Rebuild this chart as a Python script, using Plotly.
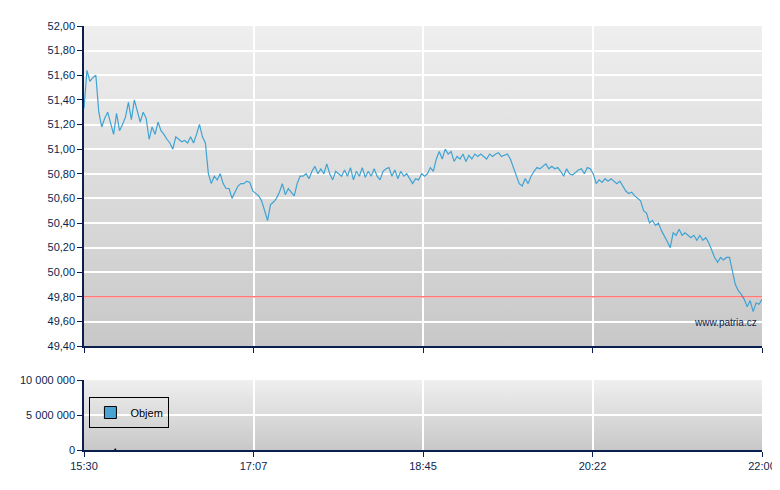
import base64
import pandas as pd
import plotly.graph_objects as go
from plotly.subplots import make_subplots

# intraday price, sampled evenly from 15:30 to 22:00
prices = [
    51.33, 51.64, 51.55, 51.58, 51.60, 51.30, 51.18, 51.25, 51.30, 51.20,
    51.12, 51.29, 51.15, 51.20, 51.26, 51.38, 51.24, 51.40, 51.30, 51.22,
    51.30, 51.25, 51.08, 51.18, 51.12, 51.22, 51.15, 51.12, 51.08, 51.05,
    51.00, 51.10, 51.08, 51.06, 51.07, 51.05, 51.10, 51.05, 51.12, 51.20,
    51.10, 51.05, 50.80, 50.72, 50.78, 50.75, 50.80, 50.72, 50.68, 50.68,
    50.60, 50.65, 50.70, 50.72, 50.72, 50.74, 50.73, 50.66, 50.64, 50.62,
    50.58, 50.50, 50.42, 50.55, 50.57, 50.60, 50.65, 50.72, 50.63, 50.68,
    50.65, 50.62, 50.72, 50.78, 50.78, 50.80, 50.76, 50.82, 50.86, 50.80,
    50.84, 50.80, 50.88, 50.80, 50.75, 50.82, 50.80, 50.78, 50.83, 50.78,
    50.85, 50.75, 50.82, 50.78, 50.85, 50.77, 50.82, 50.78, 50.84, 50.78,
    50.75, 50.82, 50.84, 50.85, 50.78, 50.83, 50.76, 50.82, 50.78, 50.80,
    50.76, 50.72, 50.76, 50.75, 50.80, 50.78, 50.80, 50.85, 50.82, 50.92,
    50.98, 50.92, 51.00, 50.96, 50.98, 50.90, 50.94, 50.92, 50.96, 50.90,
    50.95, 50.92, 50.96, 50.94, 50.96, 50.94, 50.92, 50.96, 50.94, 50.96,
    50.97, 50.94, 50.95, 50.96, 50.92, 50.85, 50.78, 50.72, 50.70, 50.76,
    50.72, 50.78, 50.82, 50.85, 50.84, 50.86, 50.88, 50.84, 50.86, 50.84,
    50.85, 50.82, 50.78, 50.84, 50.80, 50.79, 50.81, 50.83, 50.84, 50.80,
    50.85, 50.84, 50.80, 50.72, 50.75, 50.73, 50.76, 50.74, 50.76, 50.74,
    50.72, 50.74, 50.70, 50.66, 50.64, 50.65, 50.62, 50.60, 50.58, 50.50,
    50.48, 50.40, 50.42, 50.38, 50.40, 50.34, 50.30, 50.25, 50.20, 50.32,
    50.30, 50.35, 50.30, 50.32, 50.30, 50.28, 50.30, 50.26, 50.30, 50.26,
    50.28, 50.24, 50.18, 50.12, 50.08, 50.12, 50.10, 50.12, 50.12, 50.00,
    49.90, 49.85, 49.82, 49.78, 49.72, 49.77, 49.68, 49.75, 49.74, 49.78,
]
times = pd.date_range("2024-01-02 15:30", "2024-01-02 22:00", periods=len(prices))

vol_times = ["2024-01-02 15:48"]
volumes = [150000]

ref_price = 49.80
tick_times = ["2024-01-02 15:30", "2024-01-02 17:07:30", "2024-01-02 18:45",
              "2024-01-02 20:22:30", "2024-01-02 22:00"]
tick_labels = ["15:30", "17:07", "18:45", "20:22", "22:00"]
price_ticks = [49.4, 49.6, 49.8, 50.0, 50.2, 50.4, 50.6, 50.8, 51.0, 51.2, 51.4, 51.6, 51.8, 52.0]

navy = "#0b1f4f"
line_blue = "#3fa3d3"

def gradient(top, bottom):
    svg = ('<svg xmlns="http://www.w3.org/2000/svg" width="10" height="100" preserveAspectRatio="none">'
           '<defs><linearGradient id="g" x1="0" y1="0" x2="0" y2="1">'
           f'<stop offset="0" stop-color="{top}"/><stop offset="1" stop-color="{bottom}"/>'
           '</linearGradient></defs><rect width="10" height="100" fill="url(#g)"/></svg>')
    return "data:image/svg+xml;base64," + base64.b64encode(svg.encode()).decode()

fig = make_subplots(rows=2, cols=1, shared_xaxes=False, vertical_spacing=0.0)

fig.add_trace(go.Scatter(x=times, y=prices, mode="lines", line=dict(color=line_blue, width=1.2),
                         showlegend=False, hoverinfo="x+y"), row=1, col=1)
fig.add_trace(go.Bar(x=vol_times, y=volumes, name="Objem", width=30000,
                     marker=dict(color="#4aa3d0", line=dict(color="black", width=1))), row=2, col=1)

fig.add_shape(type="line", xref="x domain", yref="y", x0=0, x1=1, y0=ref_price, y1=ref_price,
              line=dict(color="#ff3030", width=1))

xcommon = dict(range=[tick_times[0], tick_times[-1]], tickvals=tick_times, ticktext=tick_labels,
               showgrid=True, gridcolor="white", gridwidth=1.5, showline=True, linecolor=navy,
               linewidth=1.5, ticks="outside", tickcolor=navy, ticklen=5,
               tickfont=dict(color=navy, size=11), zeroline=False)
fig.update_xaxes(**xcommon)
fig.update_xaxes(showticklabels=False, row=1, col=1)

ycommon = dict(showgrid=True, gridcolor="white", gridwidth=1.5, showline=True, linecolor=navy,
               linewidth=1.5, ticks="outside", tickcolor=navy, ticklen=5,
               tickfont=dict(color=navy, size=11), zeroline=False)
fig.update_yaxes(range=[49.4, 52.0], tickvals=price_ticks, tickformat=".2f", domain=[0.245, 1],
                 row=1, col=1, **ycommon)
fig.update_yaxes(range=[0, 10000000], tickvals=[0, 5000000, 10000000], tickformat=",d",
                 domain=[0, 0.165], row=2, col=1, **ycommon)

fig.add_annotation(text="www.patria.cz", xref="x domain", yref="y domain", x=0.995, y=0.05,
                   xanchor="right", yanchor="bottom", showarrow=False,
                   font=dict(color=navy, size=10))

fig.update_layout(
    width=780, height=490, margin=dict(l=57, r=24, t=17, b=48),
    paper_bgcolor="white", plot_bgcolor="rgba(0,0,0,0)",
    separators=", ",
    font=dict(family="Arial, Liberation Sans, sans-serif"),
    images=[
        dict(source=gradient("#efefef", "#c8c8c8"), xref="x domain", yref="y domain",
             x=0, y=1, sizex=1, sizey=1, sizing="stretch", layer="below"),
        dict(source=gradient("#efefef", "#c8c8c8"), xref="x2 domain", yref="y2 domain",
             x=0, y=1, sizex=1, sizey=1, sizing="stretch", layer="below"),
    ],
    legend=dict(x=0.008, y=0.125, xanchor="left", yanchor="top", bordercolor="black",
                borderwidth=1, bgcolor="rgba(0,0,0,0)", font=dict(color="black", size=11),
                itemwidth=30, tracegroupgap=0),
    showlegend=True,
)

fig.write_html("out.html")
